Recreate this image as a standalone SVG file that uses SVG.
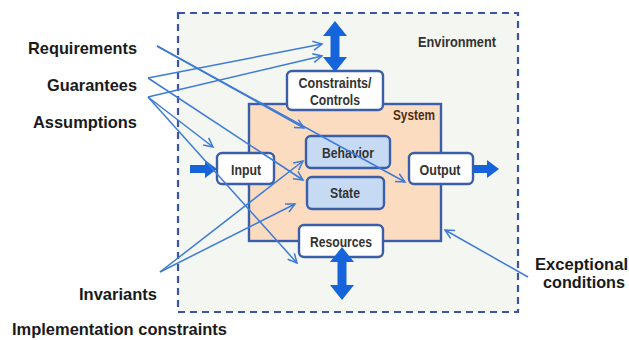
<svg xmlns="http://www.w3.org/2000/svg" width="629" height="340" viewBox="0 0 629 340">
<style>
.lbl{font-family:"Liberation Sans",Arial,sans-serif;font-weight:bold;font-size:17px;fill:#1a1a1a}
.bx{fill:#ffffff;stroke:#3b5ea8;stroke-width:2.4}
.bb{fill:#c6daf3;stroke:#3b5ea8;stroke-width:2.4}
.bt{font-family:"Liberation Sans",Arial,sans-serif;font-weight:bold;font-size:14px;fill:#333333;text-anchor:middle}
.con{fill:none;stroke:#3d7bd6;stroke-width:1.5;marker-end:url(#ah)}
.big{fill:#1664dc}
</style>
<defs>
<marker id="ah" markerWidth="12" markerHeight="12" refX="10" refY="6" orient="auto" markerUnits="userSpaceOnUse">
<path d="M1,1.5 L10,6 L1,10.5" fill="none" stroke="#3d7bd6" stroke-width="1.5"/>
</marker>
</defs>
<rect width="629" height="340" fill="#ffffff"/>
<g id="environment">
<rect x="178" y="13" width="340" height="299" fill="#f4f6f1" stroke="#3a55a5" stroke-width="2.2" stroke-dasharray="7 5"/>
<text x="418" y="47" textLength="78" lengthAdjust="spacingAndGlyphs" style="font-family:'Liberation Sans',Arial,sans-serif;font-weight:bold;font-size:15px;fill:#333">Environment</text>
</g>
<g id="system">
<rect x="249" y="104" width="192" height="137" fill="#fcdcc0" stroke="#3b5ea8" stroke-width="2.4"/>
<text x="393" y="120" textLength="42" lengthAdjust="spacingAndGlyphs" style="font-family:'Liberation Sans',Arial,sans-serif;font-weight:bold;font-size:14px;fill:#4a2e14">System</text>
</g>
<g id="constraints">
<rect class="bx" x="287" y="71" width="96" height="39" rx="5"/>
<text class="bt" x="335" y="88" textLength="73" lengthAdjust="spacingAndGlyphs">Constraints/</text>
<text class="bt" x="335" y="105" textLength="50" lengthAdjust="spacingAndGlyphs">Controls</text>
</g>
<g id="behavior">
<rect class="bb" x="306" y="136" width="84" height="32" rx="5"/>
<text class="bt" x="348" y="158" textLength="52" lengthAdjust="spacingAndGlyphs">Behavior</text>
</g>
<g id="state">
<rect class="bb" x="307" y="177" width="77" height="32" rx="5"/>
<text class="bt" x="345" y="198" textLength="30" lengthAdjust="spacingAndGlyphs">State</text>
</g>
<g id="input">
<path class="big" d="M190,165 L205,165 L205,160 L217,169 L205,178 L205,173 L190,173 Z"/>
<rect class="bx" x="217" y="153" width="57" height="31" rx="5"/>
<text class="bt" x="246" y="175" textLength="30" lengthAdjust="spacingAndGlyphs">Input</text>
</g>
<g id="output">
<path class="big" d="M473,165 L487,165 L487,160 L499,169 L487,178 L487,173 L473,173 Z"/>
<rect class="bx" x="409" y="153" width="64" height="31" rx="5"/>
<text class="bt" x="440" y="175" textLength="41" lengthAdjust="spacingAndGlyphs">Output</text>
</g>
<g id="resources">
<rect class="bx" x="299" y="225" width="84" height="32" rx="5"/>
<text class="bt" x="341" y="247" textLength="62" lengthAdjust="spacingAndGlyphs">Resources</text>
</g>
<g id="env-arrows">
<path class="big" d="M335,21 L347,36 L339.5,36 L339.5,57 L347,57 L335,72 L323,57 L330.5,57 L330.5,36 L323,36 Z"/>
<path class="big" d="M342,247 L354,262 L346.5,262 L346.5,285 L354,285 L342,300 L330,285 L337.5,285 L337.5,262 L330,262 Z"/>
</g>
<g id="labels">
<text class="lbl" x="137" y="54" text-anchor="end" textLength="109" lengthAdjust="spacingAndGlyphs">Requirements</text>
<text class="lbl" x="137" y="91" text-anchor="end" textLength="90" lengthAdjust="spacingAndGlyphs">Guarantees</text>
<text class="lbl" x="137" y="128" text-anchor="end" textLength="104" lengthAdjust="spacingAndGlyphs">Assumptions</text>
<text class="lbl" x="79" y="300" textLength="78" lengthAdjust="spacingAndGlyphs">Invariants</text>
<text class="lbl" x="12" y="335" textLength="215" lengthAdjust="spacingAndGlyphs">Implementation constraints</text>
<text class="lbl" x="535" y="270" textLength="93" lengthAdjust="spacingAndGlyphs">Exceptional</text>
<text class="lbl" x="543" y="288" textLength="82" lengthAdjust="spacingAndGlyphs">conditions</text>
</g>
<g id="connectors">
<line class="con" x1="157" y1="46" x2="304" y2="128"/>
<line class="con" x1="157" y1="46" x2="405" y2="182"/>
<line class="con" x1="148" y1="78" x2="322" y2="44"/>
<line class="con" x1="148" y1="78" x2="303" y2="180"/>
<line class="con" x1="148" y1="97" x2="322" y2="56"/>
<line class="con" x1="148" y1="97" x2="213" y2="147"/>
<line class="con" x1="148" y1="97" x2="297" y2="263"/>
<line class="con" x1="160" y1="272" x2="303" y2="161"/>
<line class="con" x1="160" y1="272" x2="295" y2="204"/>
<line class="con" x1="528" y1="277" x2="445" y2="230"/>
</g>
</svg>
